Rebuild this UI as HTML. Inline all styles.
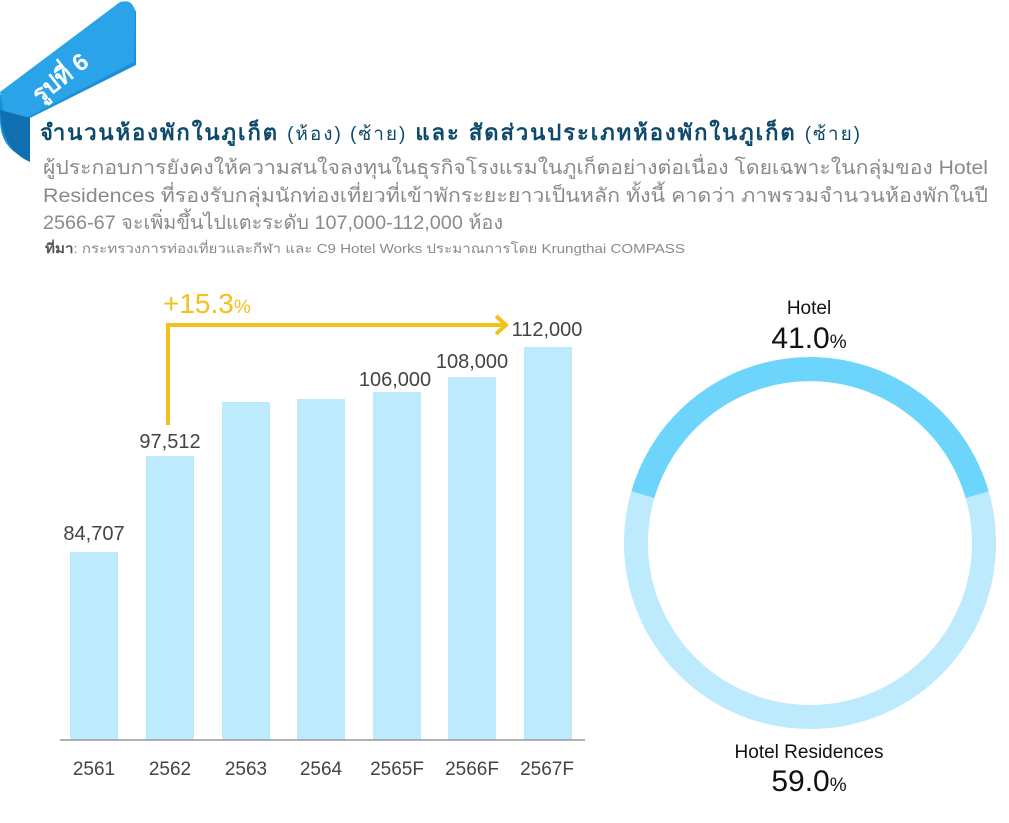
<!DOCTYPE html>
<html><head><meta charset="utf-8"><style>
html,body{margin:0;padding:0;background:#fff;width:1009px;height:823px;overflow:hidden}
svg{display:block}
text{font-family:"Liberation Sans","DejaVu Sans",sans-serif}
</style></head><body>
<svg width="1009" height="823" viewBox="0 0 1009 823" xmlns="http://www.w3.org/2000/svg">
<!-- ribbon -->
<path d="M0,95 L118,5 Q132,0 136,12 L136,65 L30,118 L30,160 Q0,150 0,120 Z" fill="#1a8fd6"/>
<path d="M0,92 L120,2 Q134,-2 135,14 L134,62 L32,115 Q8,124 4,112 Z" fill="#2aa3e8"/>
<path d="M0,110 Q2,150 30,162 L30,118 Z" fill="#0f6fb0"/>
<text x="0" y="0" transform="translate(40,104) rotate(-38)" font-size="24" font-weight="bold" fill="#fff">รูปที่ 6</text>
<!-- title -->
<text x="40" y="140" font-size="22" font-weight="bold" fill="#0e4a6b" textLength="820" lengthAdjust="spacing">จำนวนห้องพักในภูเก็ต <tspan font-weight="normal" font-size="19">(ห้อง) (ซ้าย)</tspan> และ สัดส่วนประเภทห้องพักในภูเก็ต <tspan font-weight="normal" font-size="19">(ซ้าย)</tspan></text>
<text x="43" y="174" font-size="19.5" fill="#8a8a8a" textLength="945" lengthAdjust="spacingAndGlyphs">ผู้ประกอบการยังคงให้ความสนใจลงทุนในธุรกิจโรงแรมในภูเก็ตอย่างต่อเนื่อง โดยเฉพาะในกลุ่มของ Hotel</text>
<text x="43" y="202" font-size="19.5" fill="#8a8a8a" textLength="945" lengthAdjust="spacingAndGlyphs">Residences ที่รองรับกลุ่มนักท่องเที่ยวที่เข้าพักระยะยาวเป็นหลัก ทั้งนี้ คาดว่า ภาพรวมจำนวนห้องพักในปี</text>
<text x="43" y="229" font-size="19.5" fill="#8a8a8a" textLength="460" lengthAdjust="spacingAndGlyphs">2566-67 จะเพิ่มขึ้นไปแตะระดับ 107,000-112,000 ห้อง</text>
<text x="45" y="253" font-size="13" fill="#8a8a8a" textLength="640" lengthAdjust="spacingAndGlyphs"><tspan font-weight="bold" fill="#555">ที่มา</tspan>: กระทรวงการท่องเที่ยวและกีฬา และ C9 Hotel Works ประมาณการโดย Krungthai COMPASS</text>
<!-- bars -->
<g fill="#bdeafc">
<rect x="70" y="552" width="48" height="188"/>
<rect x="146" y="456" width="48" height="284"/>
<rect x="222" y="402" width="48" height="338"/>
<rect x="297" y="399" width="48" height="341"/>
<rect x="373" y="392" width="48" height="348"/>
<rect x="448" y="377" width="48" height="363"/>
<rect x="524" y="347" width="48" height="393"/>
</g>
<line x1="60" y1="740" x2="585" y2="740" stroke="#999" stroke-width="1.5"/>
<g font-size="20" fill="#444" text-anchor="middle">
<text x="94" y="540">84,707</text>
<text x="170" y="448">97,512</text>
<text x="395" y="386">106,000</text>
<text x="472" y="368">108,000</text>
<text x="547" y="336">112,000</text>
</g>
<g font-size="19" fill="#444" text-anchor="middle">
<text x="94" y="775">2561</text><text x="170" y="775">2562</text><text x="246" y="775">2563</text>
<text x="321" y="775">2564</text><text x="397" y="775">2565F</text><text x="472" y="775">2566F</text><text x="547" y="775">2567F</text>
</g>
<!-- arrow -->
<polyline points="168,425 168,325 503,325" fill="none" stroke="#f3c11b" stroke-width="4"/>
<polyline points="496,316 506,325 496,334" fill="none" stroke="#f3c11b" stroke-width="4"/>
<text x="163" y="313" font-size="28" fill="#f3c11b">+15.3<tspan font-size="19">%</tspan></text>
<!-- donut -->
<circle cx="810" cy="543" r="174" fill="none" stroke="#bdeafc" stroke-width="24"/>
<path d="M642.9,494.6 A174,174 0 0 1 977.1,494.6" fill="none" stroke="#6dd5fb" stroke-width="24"/>
<g text-anchor="middle" fill="#111">
<text x="809" y="314" font-size="19">Hotel</text>
<text x="809" y="348" font-size="30">41.0<tspan font-size="19">%</tspan></text>
<text x="809" y="758" font-size="19">Hotel Residences</text>
<text x="809" y="791" font-size="30">59.0<tspan font-size="19">%</tspan></text>
</g>
</svg>
</body></html>
